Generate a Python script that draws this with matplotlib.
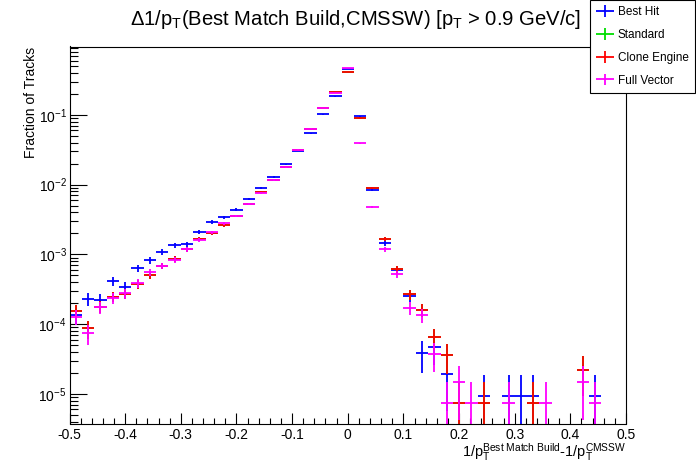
import numpy as np
import matplotlib
matplotlib.use('Agg')
import matplotlib.pyplot as plt
from matplotlib.ticker import MultipleLocator, LogLocator, LogFormatterMathtext, FuncFormatter, NullFormatter
from matplotlib.container import ErrorbarContainer
from matplotlib.legend_handler import HandlerErrorbar

plt.rcParams['font.family'] = ['Liberation Sans', 'DejaVu Sans']
plt.rcParams['mathtext.fontset'] = 'custom'
plt.rcParams['mathtext.rm'] = 'Liberation Sans'
plt.rcParams['mathtext.it'] = 'Liberation Sans:italic'
plt.rcParams['mathtext.bf'] = 'Liberation Sans:bold'
plt.rcParams['axes.unicode_minus'] = False

# 45 bins between -0.5 and 0.5
n_bins = 45
x_lo, x_hi = -0.5, 0.5

best_hit = [1.34e-4, 2.31e-4, 2.22e-4, 4.15e-4, 3.44e-4, 6.32e-4, 8.22e-4, 1.08e-3, 1.35e-3,
            1.41e-3, 2.07e-3, 2.94e-3, 3.40e-3, 4.38e-3, 6.18e-3, 8.90e-3, 1.29e-2, 1.96e-2,
            3.05e-2, 5.46e-2, 0.102, 0.185, 0.453, 0.0958, 8.31e-3, 1.44e-3, 5.91e-4, 2.53e-4,
            3.89e-5, 4.65e-5, 1.91e-5, 0, 0, 9.4e-6, 0, 9.4e-6, 9.4e-6, 9.4e-6, 0, 0,
            0, 0, 9.4e-6, 0, 0]

clone_engine = [1.53e-4, 8.71e-5, 1.78e-4, 2.47e-4, 2.70e-4, 3.76e-4, 5.06e-4, 6.82e-4, 8.68e-4,
                1.18e-3, 1.65e-3, 2.05e-3, 2.62e-3, 3.56e-3, 5.24e-3, 7.78e-3, 1.17e-2, 1.79e-2,
                3.10e-2, 6.24e-2, 0.125, 0.212, 0.410, 0.0897, 8.88e-3, 1.65e-3, 6.11e-4, 2.68e-4,
                1.59e-4, 6.47e-5, 3.57e-5, 7.3e-6, 0, 7.3e-6, 0, 0, 0, 7.3e-6, 0, 0,
                0, 2.19e-5, 0, 0, 0]

# standard is identical to clone engine (hidden under the red markers)
standard = list(clone_engine)

full_vector = [1.28e-4, 7.38e-5, 1.75e-4, 2.39e-4, 2.77e-4, 3.85e-4, 5.59e-4, 6.82e-4, 8.31e-4,
               1.18e-3, 1.59e-3, 2.07e-3, 2.79e-3, 3.56e-3, 5.24e-3, 7.53e-3, 1.17e-2, 1.78e-2,
               3.15e-2, 6.36e-2, 0.125, 0.205, 0.468, 3.93e-2, 4.74e-3, 1.18e-3, 5.18e-4, 1.69e-4,
               1.35e-4, 3.69e-5, 7.3e-6, 1.46e-5, 7.3e-6, 0, 0, 7.3e-6, 0, 0, 7.3e-6, 0,
               0, 1.46e-5, 7.3e-6, 0, 0]

# weight of a single track (1/N) per series, for poisson errors
unit_best_hit = 9.4e-6
unit_standard = 7.3e-6
unit_clone = 7.3e-6
unit_full = 7.3e-6

series = [
    ("Best Hit", best_hit, unit_best_hit, "#0000ff"),
    ("Standard", standard, unit_standard, "#00dd00"),
    ("Clone Engine", clone_engine, unit_clone, "#ff0000"),
    ("Full Vector", full_vector, unit_full, "#ff00ff"),
]

edges = np.linspace(x_lo, x_hi, n_bins + 1)
centers = 0.5 * (edges[:-1] + edges[1:])
half_w = 0.5 * (edges[1] - edges[0])

fig = plt.figure(figsize=(6.96, 4.72), dpi=100)
ax = fig.add_axes([69.5 / 696, 1 - 423.5 / 472, (626 - 69.5) / 696, (423.5 - 46.5) / 472])

for name, vals, unit, col in series:
    vals = np.array(vals, dtype=float)
    m = vals > 0
    err = np.sqrt(vals[m] * unit)
    ax.errorbar(centers[m], vals[m], xerr=half_w, yerr=err, fmt='none',
                ecolor=col, elinewidth=1.3, capsize=0, label=name)

ax.set_yscale('log')
ax.set_xlim(x_lo, x_hi)
ax.set_ylim(3.75e-6, 0.96)

ax.xaxis.set_major_locator(MultipleLocator(0.1))
ax.xaxis.set_minor_locator(MultipleLocator(0.02))
ax.xaxis.set_major_formatter(FuncFormatter(
    lambda v, p: '0' if abs(v) < 1e-9 else ('%.1f' % v)))
ax.yaxis.set_major_locator(LogLocator(base=10, numticks=20))
ax.yaxis.set_minor_locator(LogLocator(base=10, subs=np.arange(2, 10), numticks=20))
ax.yaxis.set_major_formatter(LogFormatterMathtext())
ax.yaxis.set_minor_formatter(NullFormatter())

ax.tick_params(axis='both', which='both', direction='in', top=False, right=False,
               labelsize=10, width=0.8)
ax.tick_params(axis='x', which='major', length=7.9, pad=3)
ax.tick_params(axis='x', which='minor', length=4.1)
ax.tick_params(axis='y', which='major', length=12.2, pad=2)
ax.tick_params(axis='y', which='minor', length=6)
for s in ax.spines.values():
    s.set_linewidth(0.8)

ax.set_xlabel(r'1/p$_{\mathrm{T}}^{\mathrm{Best\ Match\ Build}}$-1/p$_{\mathrm{T}}^{\mathrm{CMSSW}}$',
              loc='right', fontsize=10.5)
ax.xaxis.set_label_coords(1.0, -0.047)
ax.set_ylabel('Fraction of Tracks', loc='top', fontsize=10)
ax.yaxis.set_label_coords(-0.0566, 1.0)

fig.text(355.5 / 696, 1 - 25 / 472,
         r'$\Delta$1/p$_{\mathrm{T}}$(Best Match Build,CMSSW) [p$_{\mathrm{T}}$ > 0.9 GeV/c]',
         ha='center', va='baseline', fontsize=14.6)

handles, labels = ax.get_legend_handles_labels()
leg = fig.legend(handles, labels, loc='upper right', bbox_to_anchor=(695 / 696, 1.0),
                 frameon=True, fancybox=False, edgecolor='black', framealpha=1,
                 fontsize=8.5, borderpad=0.54, labelspacing=0.91, handlelength=1.5,
                 handletextpad=0.35, borderaxespad=0,
                 handler_map={ErrorbarContainer: HandlerErrorbar(xerr_size=0.75, yerr_size=0.5)})
leg.get_frame().set_linewidth(0.8)

fig.savefig('out.png', dpi=100)
